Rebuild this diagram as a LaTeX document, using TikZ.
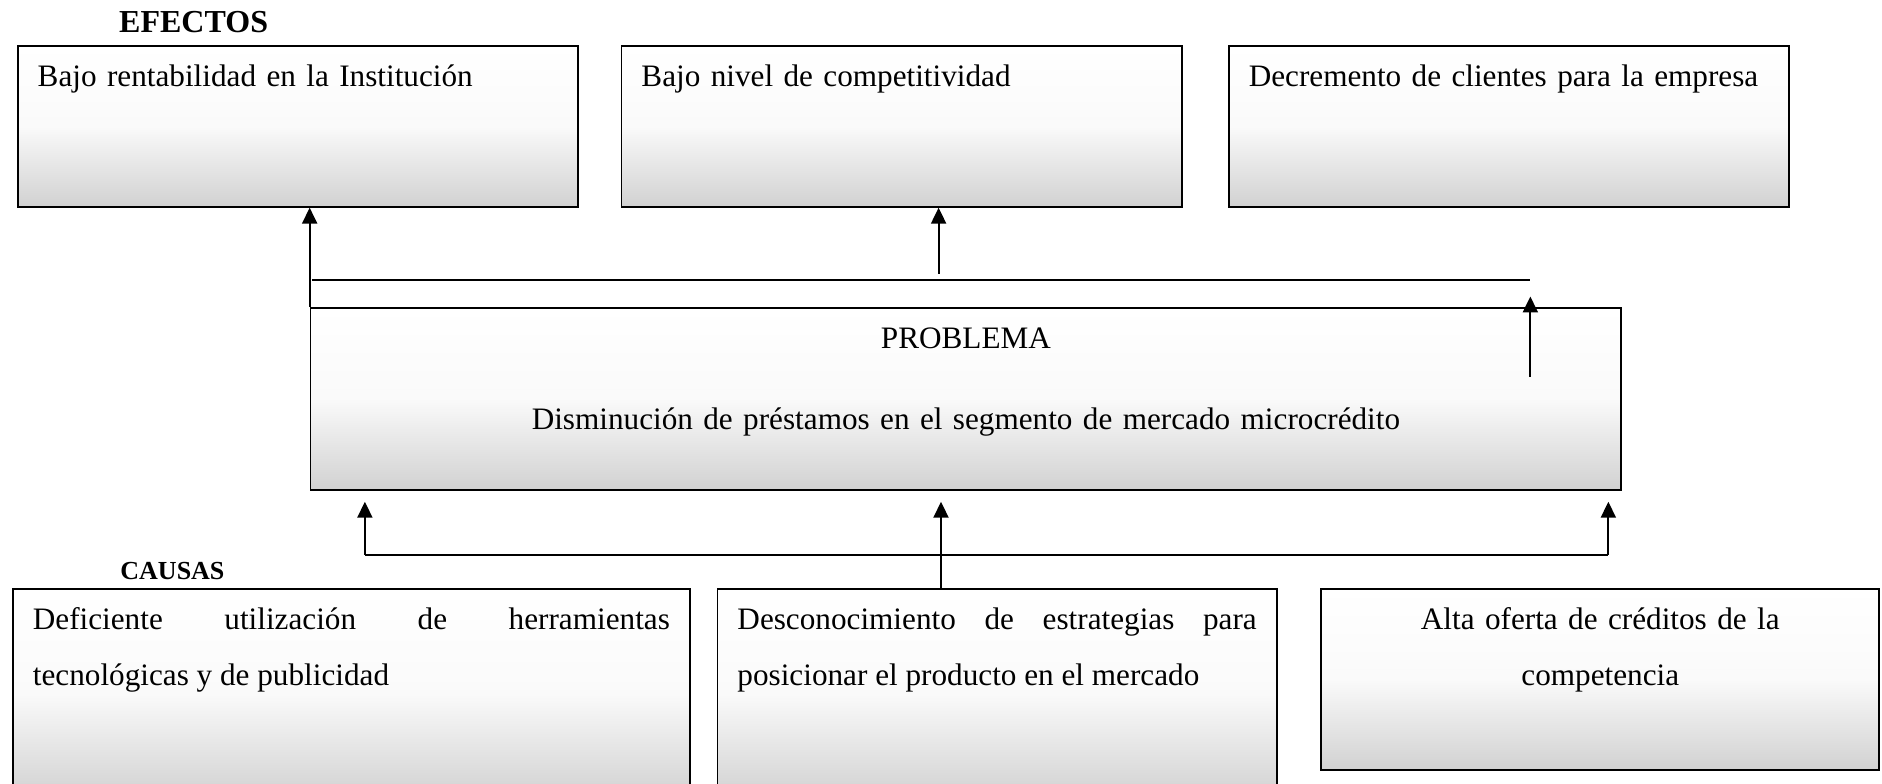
\documentclass[tikz,border=0pt]{standalone}
\usepackage{fontspec}
\setmainfont{Liberation Serif}
\usetikzlibrary{arrows.meta}
\begin{document}
\begin{tikzpicture}[x=0.6pt,y=-0.6pt,
  caja/.style={draw,line width=0.9pt,anchor=north west,inner xsep=10pt,inner ysep=0pt,
    top color=white,bottom color=black!18,middle color=white!98!black,
    font=\fontsize{15.6}{27.6}\selectfont,text height=20.4pt},
  efecto/.style={caja,text width=260.2pt,text depth=60pt,align=left},
  causa/.style={caja,text depth=84.6pt,align=justify,font=\fontsize{15.6}{27.6}\selectfont\sloppy},
  flecha/.style={line width=1pt,-{Triangle[length=8pt,width=7.5pt]}},
  linea/.style={line width=1pt},
  titulo/.style={font=\bfseries\fontsize{16}{19}\selectfont,inner sep=0pt,anchor=base west}]
\clip (0,0) rectangle (1568,653);
% efectos
\node[titulo] (tef) at (99,27) {EFECTOS};
\node[efecto] (e1) at (14,37.5) {Bajo rentabilidad en la Institución};
\node[efecto] (e2) at (517,37.5) {Bajo nivel de competitividad};
\node[efecto] (e3) at (1023,37.5) {Decremento de clientes para la empresa};
% problema
\node[caja,text width=635.2pt,text height=20.3pt,text depth=71pt,align=center,
  font=\fontsize{15.6}{40.5}\selectfont] (prob) at (258,255.6)
  {PROBLEMA\\Disminución de préstamos en el segmento de mercado microcrédito};
% causas
\node[titulo,font=\bfseries\fontsize{13}{15}\selectfont] (tca) at (100,482.5) {CAUSAS};
\node[causa,text width=318.4pt] (c1) at (10,490)
  {Deficiente utilización de herramientas\linebreak tecnológicas y de publicidad};
\node[causa,text width=259.6pt] (c2) at (597,490)
  {Desconocimiento de estrategias para\linebreak posicionar el producto en el mercado};
\node[caja,text width=259pt,text depth=70.2pt,align=center] (c3) at (1100,490)
  {Alta oferta de créditos de la\\competencia};
% flechas hacia los efectos
\coordinate (l1) at (260,233);
\coordinate (l2) at (1275,233);
\coordinate (m2) at (782,228);
\coordinate (p3) at (1275,314);
\coordinate (q3) at (1275,247);
\draw[flecha] (prob.north west) -- (prob.north west |- e1.south);
\draw[linea] (l1) -- (l2);
\draw[flecha] (m2) -- (m2 |- e2.south);
\draw[flecha] (p3) -- (q3);
% flechas desde las causas
\coordinate (b1) at (304,462);
\coordinate (b3) at (1340,462);
\coordinate (b2) at (784,490);
\coordinate (t1) at (304,418);
\draw[linea] (b1) -- (b3);
\draw[flecha] (b1) -- (t1);
\draw[flecha] (b2) -- (b2 |- t1);
\draw[flecha] (b3) -- (b3 |- t1);
\end{tikzpicture}
\end{document}
